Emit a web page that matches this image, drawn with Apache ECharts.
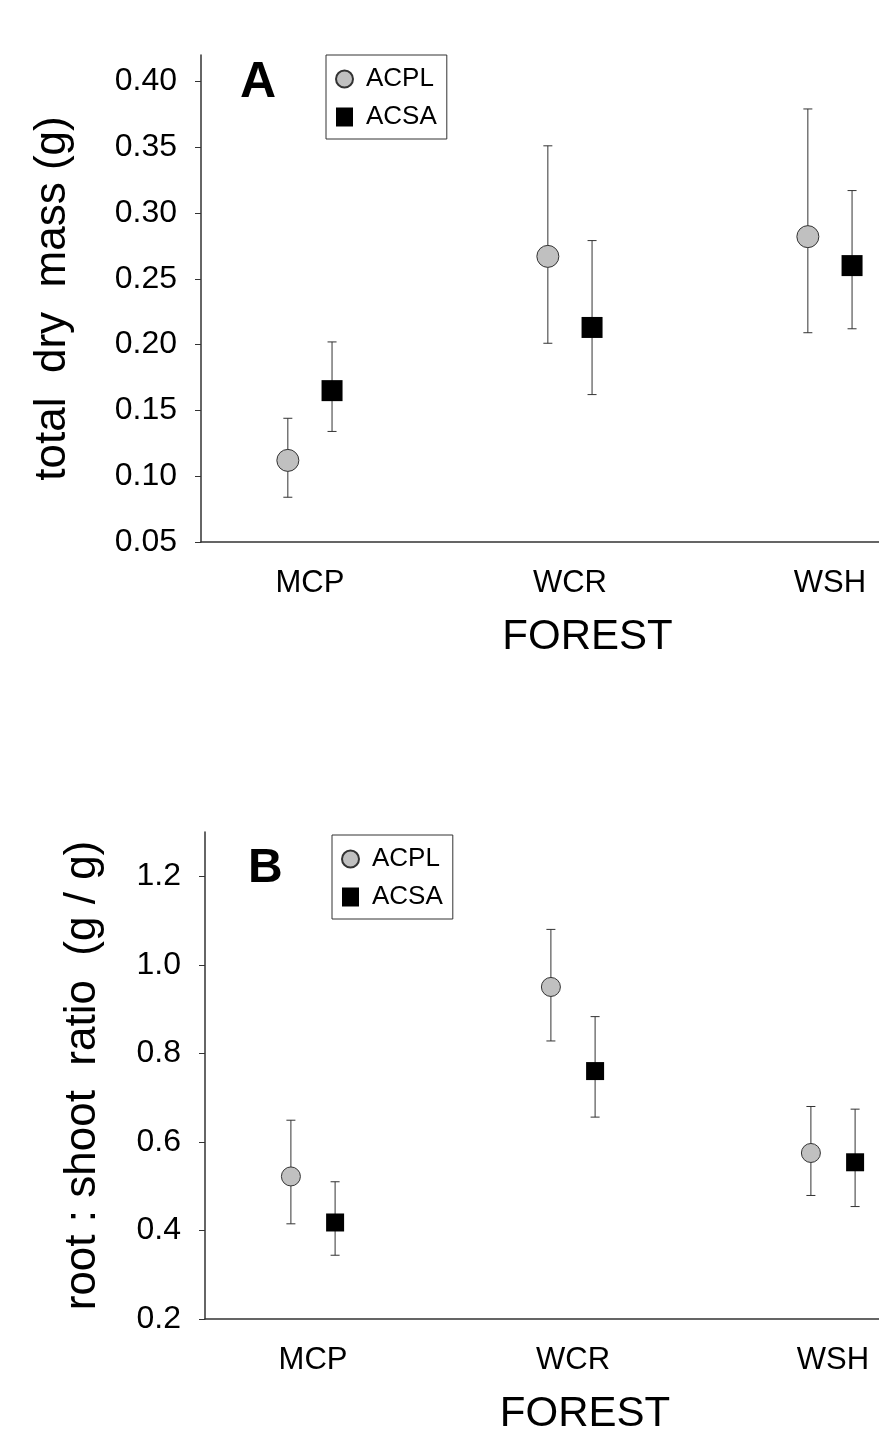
<!DOCTYPE html>
<html>
<head>
<meta charset="utf-8">
<script src="https://cdn.jsdelivr.net/npm/echarts@6/dist/echarts.min.js"></script>
<style>
html,body{margin:0;padding:0;background:#fff;}
#chart{width:879px;height:1429px;}
</style>
</head>
<body>
<div id="chart"></div>
<script>
// ---- data ----
const categories = ['MCP', 'WCR', 'WSH'];
const seriesNames = ['ACPL', 'ACSA'];

// Panel A: total dry mass (g)
const massACPL     = [0.112, 0.267, 0.282];
const massACPLLow  = [0.084, 0.201, 0.209];
const massACPLHigh = [0.144, 0.351, 0.379];
const massACSA     = [0.165, 0.213, 0.260];
const massACSALow  = [0.134, 0.162, 0.212];
const massACSAHigh = [0.202, 0.279, 0.317];

// Panel B: root : shoot ratio (g / g)
const ratioACPL     = [0.522, 0.950, 0.575];
const ratioACPLLow  = [0.415, 0.828, 0.479];
const ratioACPLHigh = [0.649, 1.080, 0.680];
const ratioACSA     = [0.418, 0.760, 0.554];
const ratioACSALow  = [0.344, 0.656, 0.454];
const ratioACSAHigh = [0.510, 0.883, 0.674];

// tick labels
const massTicks  = [0.05, 0.10, 0.15, 0.20, 0.25, 0.30, 0.35, 0.40];
const ratioTicks = [0.2, 0.4, 0.6, 0.8, 1.0, 1.2];
const catTicks   = [0, 1, 2];

// ---- layout / style ----
const FONT = "'Liberation Sans', Arial, Helvetica, sans-serif";
const OFF = 0.085; // horizontal dodge of the two species within a forest
const AX = '#333';

function pts(vals, off) { return vals.map((v, i) => [i + off, v]); }
function bars(lo, hi, off) { return lo.map((v, i) => [i + off, v, hi[i]]); }

function errRender(params, api) {
  const x = api.value(0), lo = api.value(1), hi = api.value(2);
  const a = api.coord([x, lo]), b = api.coord([x, hi]);
  const w = 4.5;
  const st = { stroke: '#333', lineWidth: 1 };
  return { type: 'group', children: [
    { type: 'line', shape: { x1: a[0], y1: a[1], x2: b[0], y2: b[1] }, style: st },
    { type: 'line', shape: { x1: a[0] - w, y1: a[1], x2: a[0] + w, y2: a[1] }, style: st },
    { type: 'line', shape: { x1: b[0] - w, y1: b[1], x2: b[0] + w, y2: b[1] }, style: st }
  ]};
}

function xAxisCfg(gi, min, max) {
  return {
    type: 'value', gridIndex: gi, min: min, max: max,
    axisLine: { show: true, onZero: false, lineStyle: { color: AX, width: 1.5 } },
    axisTick: { show: false },
    splitLine: { show: false },
    axisLabel: {
      customValues: catTicks, margin: 26, fontSize: 31, color: '#000', fontFamily: FONT,
      formatter: v => categories[Math.round(v)] || ''
    },
    name: 'FOREST', nameLocation: 'middle', nameGap: 74,
    nameTextStyle: { fontSize: 42, color: '#000', fontFamily: FONT }
  };
}

function yAxisCfg(gi, min, max, ticks, dec, name, gap) {
  return {
    type: 'value', gridIndex: gi, min: min, max: max,
    axisLine: { show: true, onZero: false, lineStyle: { color: AX, width: 1.5 } },
    axisTick: { show: true, customValues: ticks, length: 6, lineStyle: { color: AX, width: 1 } },
    splitLine: { show: false },
    axisLabel: {
      customValues: ticks, margin: 24, fontSize: 32, color: '#000', fontFamily: FONT,
      formatter: v => v.toFixed(dec)
    },
    name: name, nameLocation: 'middle', nameGap: gap,
    nameTextStyle: { fontSize: 44, color: '#000', fontFamily: FONT }
  };
}

function scatterSeries(name, gi, data, size) {
  const isCircle = name === 'ACPL';
  return {
    type: 'scatter', name: name, xAxisIndex: gi, yAxisIndex: gi, z: 3,
    symbol: isCircle ? 'circle' : 'rect', symbolSize: size,
    itemStyle: isCircle
      ? { color: '#c0c0c0', borderColor: '#333', borderWidth: 1, opacity: 1 }
      : { color: '#000', borderColor: '#000', borderWidth: 0, opacity: 1 },
    data: data, emphasis: { disabled: true }
  };
}

function errSeries(gi, data) {
  return { type: 'custom', xAxisIndex: gi, yAxisIndex: gi, z: 2,
           renderItem: errRender, encode: { x: 0, y: [1, 2] }, data: data, silent: true };
}

function legendCfg(left, top) {
  return {
    data: seriesNames, orient: 'vertical', left: left, top: top,
    padding: [11, 10, 9, 9], itemGap: 12, itemWidth: 17, itemHeight: 19,
    borderColor: '#333', borderWidth: 1, selectedMode: false,
    textStyle: { fontSize: 26, color: '#000', fontFamily: FONT, padding: [0, 0, 0, 8] }
  };
}

const chart = echarts.init(document.getElementById('chart'), null, { renderer: 'canvas' });
chart.setOption({
  animation: false,
  backgroundColor: '#fff',
  title: [
    { text: 'A', left: 240, top: 58, padding: 0,
      textStyle: { fontSize: 50, fontWeight: 'bold', color: '#000', fontFamily: FONT } },
    { text: 'B', left: 248, top: 845, padding: 0,
      textStyle: { fontSize: 48, fontWeight: 'bold', color: '#000', fontFamily: FONT } }
  ],
  legend: [legendCfg(326, 55), legendCfg(332, 835)],
  grid: [
    { left: 201, top: 55, width: 773, height: 487, containLabel: false, outerBoundsMode: 'none' },
    { left: 205, top: 832, width: 760, height: 487, containLabel: false, outerBoundsMode: 'none' }
  ],
  xAxis: [xAxisCfg(0, -0.419, 2.554), xAxisCfg(1, -0.4154, 2.5077)],
  yAxis: [
    yAxisCfg(0, 0.05, 0.42, massTicks, 2, 'total  dry  mass (g)', 126),
    yAxisCfg(1, 0.2, 1.3, ratioTicks, 1, 'root : shoot  ratio  (g / g)', 100)
  ],
  series: [
    errSeries(0, bars(massACPLLow, massACPLHigh, -OFF)),
    errSeries(0, bars(massACSALow, massACSAHigh, OFF)),
    scatterSeries('ACPL', 0, pts(massACPL, -OFF), 22),
    scatterSeries('ACSA', 0, pts(massACSA, OFF), 21),
    errSeries(1, bars(ratioACPLLow, ratioACPLHigh, -OFF)),
    errSeries(1, bars(ratioACSALow, ratioACSAHigh, OFF)),
    scatterSeries('ACPL', 1, pts(ratioACPL, -OFF), 19),
    scatterSeries('ACSA', 1, pts(ratioACSA, OFF), 18)
  ]
});
</script>
</body>
</html>
